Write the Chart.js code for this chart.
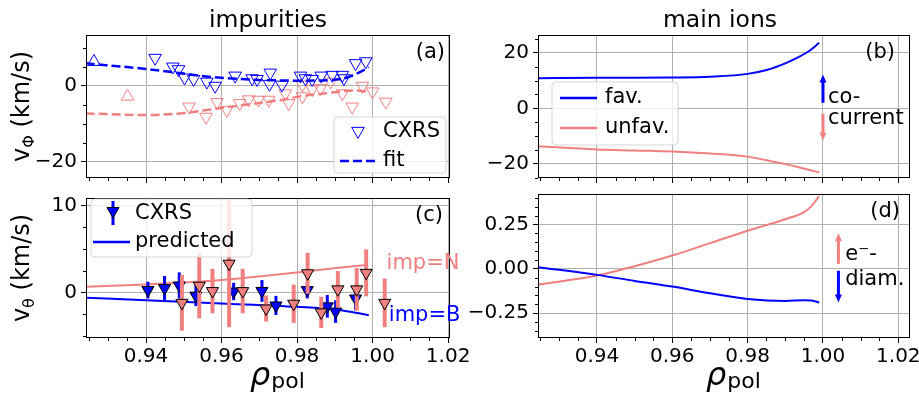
<!DOCTYPE html>
<html>
<head>
<meta charset="utf-8">
<script src="https://cdn.jsdelivr.net/npm/chart.js@4.4.0/dist/chart.umd.min.js"></script>
<style>
html, body { margin: 0; padding: 0; background: #fff; }
#wrap { position: relative; width: 919px; height: 394px; overflow: hidden; }
#wrap canvas { position: absolute; left: 0; top: 0; }
</style>
</head>
<body>
<div id="wrap">
  <canvas id="cD" width="919" height="394"></canvas>
  <canvas id="cC" width="919" height="394"></canvas>
  <canvas id="cB" width="919" height="394"></canvas>
  <canvas id="cA" width="919" height="394"></canvas>
</div>
<script>
//ticks
const xMajor = [0.94, 0.96, 0.98, 1.00, 1.02];
const xMinor = [0.925, 0.930, 0.935, 0.945, 0.950, 0.955, 0.965, 0.970, 0.975, 0.985, 0.990, 0.995, 1.005, 1.010, 1.015];
const aMajor = [-20, 0];
const aMinor = [-15, -10, -5, 5, 10];
const bMajor = [-20, 0, 20];
const bMinor = [-25, -15, -10, -5, 5, 10, 15, 25];
const cMajor = [0, 10];
const cMinor = [-5, -2.5, 2.5, 5, 7.5];
const dMajor = [-0.25, 0, 0.25];
const dMinor = [-0.35, -0.3, -0.2, -0.15, -0.1, -0.05, 0.05, 0.1, 0.15, 0.2, 0.3, 0.35, 0.4];

//(a) impurities, toroidal rotation (km/s)
const aFavRho = [0.9424, 0.9471, 0.9486, 0.9502, 0.9526, 0.9561, 0.9583, 0.9636, 0.9681, 0.9694, 0.9729, 0.9727, 0.9760, 0.9809, 0.9822, 0.9840, 0.9864, 0.9893, 0.9920, 0.9924, 0.9955, 0.9982];
const aFavV   = [7.4, 5.1, 4.4, 2.2, 1.8, 1.1, 0.0, 2.7, 2.0, 1.8, 3.5, 0.5, 0.3, 2.7, 2.0, 1.8, 2.7, 2.9, 2.9, 2.0, 6.0, 6.5];
const aFavUpRho = [0.9262];
const aFavUpV   = [6.4];
const aUnfRho = [0.9514, 0.9559, 0.9588, 0.9614, 0.9648, 0.9672, 0.9698, 0.9725, 0.9769, 0.9778, 0.9814, 0.9814, 0.9840, 0.9862, 0.9889, 0.9920, 0.9946, 0.9973, 1.0000, 1.0035];
const aUnfV   = [-5.5, -8.2, -4.3, -6.4, -4.6, -3.6, -3.7, -3.7, -2.0, -4.6, 0.3, -2.8, -0.9, -0.6, 1.1, -2.0, -5.5, 0.0, -1.5, -4.2];
const aUnfUpRho = [0.9351];
const aUnfUpV   = [-2.8];
const aFitRho = [0.924, 0.94, 0.949, 0.956, 0.961, 0.97, 0.976, 0.98, 0.988, 0.992, 0.995, 0.999];
const aFitFav = [6.0, 4.5, 3.4, 2.5, 2.1, 1.6, 1.45, 1.4, 1.5, 1.9, 2.9, 4.9];
const aFitUnf = [-7.3, -7.7, -7.3, -6.4, -5.7, -4.5, -3.7, -2.9, -1.9, -1.4, -1.2, -1.5];

//(b) main ions, toroidal rotation (km/s)
const bRho   = [0.924, 0.94, 0.95, 0.96, 0.97, 0.98, 0.985, 0.99, 0.9935, 0.9965, 0.999];
const bFav   = [10.8, 11.0, 11.0, 11.1, 11.4, 12.4, 13.8, 16.2, 18.4, 20.8, 23.6];
const bUnfav = [-13.6, -14.8, -15.2, -15.6, -16.3, -17.4, -18.7, -20.1, -21.2, -22.2, -23.1];

//(c) impurities, poloidal rotation (km/s)
const cFavRho = [0.9405, 0.9449, 0.9488, 0.9532, 0.9632, 0.9707, 0.9744, 0.9827, 0.9880, 0.9902, 0.9955];
const cFavV   = [0.27, 0.5, 0.8, -0.37, 0.1, 0.17, -1.5, 0.27, -1.6, -2.2, -0.7];
const cFavErr = [0.96, 1.38, 1.5, 1.2, 1.0, 1.25, 1.1, 0.96, 1.3, 1.3, 1.35];
const cUnfRho = [0.9495, 0.9541, 0.9576, 0.9620, 0.9656, 0.9718, 0.9791, 0.9828, 0.9864, 0.9908, 0.9958, 0.9983, 1.0032];
const cUnfV   = [-1.2, 0.77, 0.15, 3.3, 0.15, -1.85, -1.3, 2.2, -2.3, 0.35, 0.35, 2.25, -1.2];
const cUnfErr = [3.2, 3.75, 2.55, 7.3, 2.55, 1.5, 2.2, 2.35, 1.8, 2.1, 2.45, 2.7, 2.8];
const cPredNRho = [0.924, 0.94, 0.96, 0.98, 0.9897, 0.9986];
const cPredN    = [0.65, 0.92, 1.42, 2.3, 2.77, 3.15];
const cPredBRho = [0.924, 0.94, 0.96, 0.98, 0.9897, 0.9942, 0.999];
const cPredB    = [-0.62, -0.89, -1.27, -1.66, -1.93, -2.23, -2.62];

//(d) main ions, poloidal rotation (km/s)
const dRho   = [0.924, 0.94, 0.95, 0.96, 0.97, 0.98, 0.99, 0.995, 0.997, 0.999];
const dFav   = [0.01, -0.034, -0.068, -0.1, -0.138, -0.17, -0.181, -0.177, -0.179, -0.19];
const dUnfav = [-0.09, -0.038, 0.015, 0.075, 0.145, 0.215, 0.28, 0.32, 0.355, 0.41];

const W = 919, H = 394;
const FONT = "'DejaVu Sans', sans-serif";
const BLUE = '#0000ff';
const CORAL = '#f08080';
const GRID = '#b0b0b0';

function pts(xs, ys) {
    return xs.map((x, i) => ({x: x, y: ys[i]}));
}

function minusFmt(v) {
    return (v < 0 ? '\u2212' : '') + Math.abs(v);
}

function txt(ctx, s, x, y, size, color, align, style) {
    ctx.save();
    ctx.font = (style || '') + ' ' + size + 'px ' + FONT;
    ctx.fillStyle = color || '#000';
    ctx.textAlign = align || 'left';
    ctx.textBaseline = 'middle';
    ctx.fillText(s, x, y);
    ctx.restore();
}

// same geometry as chart.js 'triangle' point style
function tri(ctx, x, y, r, down, fill, stroke) {
    let rad = down ? Math.PI : 0;
    ctx.save();
    ctx.beginPath();
    for (let k = 0; k < 3; k++) {
        const px = x + Math.sin(rad) * r, py = y - Math.cos(rad) * r;
        if (k == 0) ctx.moveTo(px, py); else ctx.lineTo(px, py);
        rad += 2 * Math.PI / 3;
    }
    ctx.closePath();
    if (fill) { ctx.fillStyle = fill; ctx.fill(); }
    ctx.lineWidth = 1;
    ctx.strokeStyle = stroke;
    ctx.stroke();
    ctx.restore();
}

function legendBox(ctx, x, y, w, h) {
    const r = 4;
    ctx.save();
    ctx.beginPath();
    ctx.moveTo(x + r, y);
    ctx.arcTo(x + w, y, x + w, y + h, r);
    ctx.arcTo(x + w, y + h, x, y + h, r);
    ctx.arcTo(x, y + h, x, y, r);
    ctx.arcTo(x, y, x + w, y, r);
    ctx.closePath();
    ctx.fillStyle = 'rgba(255,255,255,0.8)';
    ctx.fill();
    ctx.strokeStyle = 'rgba(204,204,204,0.8)';
    ctx.lineWidth = 1;
    ctx.stroke();
    ctx.restore();
}

function arrow(ctx, x, y0, y1, color) {
    const dir = y1 < y0 ? -1 : 1;
    ctx.save();
    ctx.strokeStyle = color;
    ctx.fillStyle = color;
    ctx.lineWidth = 3;
    ctx.beginPath();
    ctx.moveTo(x, y0);
    ctx.lineTo(x, y1 - dir * 7);
    ctx.stroke();
    ctx.beginPath();
    ctx.moveTo(x - 3.5, y1 - dir * 8);
    ctx.lineTo(x + 3.5, y1 - dir * 8);
    ctx.lineTo(x, y1);
    ctx.closePath();
    ctx.fill();
    ctx.restore();
}

function hline(ctx, x0, x1, y, color, dash) {
    ctx.save();
    ctx.strokeStyle = color;
    ctx.lineWidth = 2.5;
    if (dash) ctx.setLineDash(dash);
    ctx.beginPath();
    ctx.moveTo(x0, y);
    ctx.lineTo(x1, y);
    ctx.stroke();
    ctx.restore();
}

function yLabel(ctx, cx, cy, sub) {
    ctx.save();
    ctx.translate(cx, cy);
    ctx.rotate(-Math.PI / 2);
    ctx.fillStyle = '#000';
    ctx.textBaseline = 'alphabetic';
    ctx.font = '24px ' + FONT;
    const wv = ctx.measureText('v').width;
    const wr = ctx.measureText(' (km/s)').width;
    ctx.font = '16px ' + FONT;
    const ws = ctx.measureText(sub).width;
    let x = -(wv + ws + wr) / 2;
    ctx.font = '24px ' + FONT;
    ctx.fillText('v', x, 0);
    x += wv;
    ctx.font = '16px ' + FONT;
    ctx.fillText(sub, x, 5);
    x += ws;
    ctx.font = '24px ' + FONT;
    ctx.fillText(' (km/s)', x, 0);
    ctx.restore();
}

function xLabel(ctx, a) {
    const x = (a.left + a.right) / 2 - 18;
    ctx.save();
    ctx.fillStyle = '#000';
    ctx.textBaseline = 'alphabetic';
    ctx.font = 'italic 32px ' + FONT;
    ctx.fillText('\u03c1', x, 385);
    const w = ctx.measureText('\u03c1').width;
    ctx.font = '22px ' + FONT;
    ctx.fillText('pol', x + w + 1, 388);
    ctx.restore();
}

function drawErrorBars(chart, ds) {
    const ctx = chart.ctx;
    const xs = chart.scales.x, ys = chart.scales.y;
    const a = chart.chartArea;
    ctx.save();
    ctx.beginPath();
    ctx.rect(a.left, a.top, a.right - a.left, a.bottom - a.top);
    ctx.clip();
    ctx.strokeStyle = ds.errColor;
    ctx.lineWidth = ds.errWidth;
    ds.data.forEach((p, i) => {
        const x = xs.getPixelForValue(p.x);
        ctx.beginPath();
        ctx.moveTo(x, ys.getPixelForValue(p.y - ds.errs[i]));
        ctx.lineTo(x, ys.getPixelForValue(p.y + ds.errs[i]));
        ctx.stroke();
    });
    ctx.restore();
}

function makePanel(id, p) {
    const decor = {
        id: 'decor',
        beforeDatasetDraw(chart, args) {
            const ds = chart.data.datasets[args.index];
            if (ds.errs) drawErrorBars(chart, ds);
        },
        afterDraw(chart) {
            const ctx = chart.ctx, a = chart.chartArea, s = chart.scales;
            ctx.save();
            ctx.strokeStyle = '#000';
            ctx.lineWidth = 1;
            ctx.beginPath();
            xMinor.forEach(v => {
                if (v < p.xr[0] || v > p.xr[1]) return;
                const x = Math.round(s.x.getPixelForValue(v)) + 0.5;
                ctx.moveTo(x, a.bottom);
                ctx.lineTo(x, a.bottom + 3);
            });
            p.yMinor.forEach(v => {
                const y = Math.round(s.y.getPixelForValue(v)) + 0.5;
                ctx.moveTo(a.left - 3, y);
                ctx.lineTo(a.left, y);
            });
            ctx.stroke();
            ctx.strokeRect(a.left + 0.5, a.top + 0.5, a.right - a.left - 1, a.bottom - a.top - 1);
            ctx.restore();
            p.extra(chart, ctx, a, s);
        }
    };

    return new Chart(document.getElementById(id), {
        type: 'scatter',
        data: { datasets: p.datasets },
        options: {
            responsive: false,
            animation: false,
            devicePixelRatio: 1,
            layout: { padding: { left: 0, top: p.box[1], right: W - p.box[2], bottom: H - p.box[3] - p.xh } },
            plugins: { legend: { display: false }, tooltip: { enabled: false }, title: { display: false } },
            scales: {
                x: {
                    type: 'linear', min: p.xr[0], max: p.xr[1],
                    afterBuildTicks: sc => { sc.ticks = xMajor.map(v => ({value: v})); },
                    afterFit: sc => { sc.height = p.xh; sc.paddingLeft = 0; sc.paddingRight = 0; },
                    ticks: { display: p.xLabels, autoSkip: false, maxRotation: 0, padding: 2, color: '#000',
                             font: { family: FONT, size: 20 }, callback: v => v.toFixed(2) },
                    grid: { color: GRID, lineWidth: 1, tickColor: '#000', tickLength: 5, tickWidth: 1 },
                    border: { display: false }
                },
                y: {
                    type: 'linear', min: p.yr[0], max: p.yr[1],
                    afterBuildTicks: sc => { sc.ticks = p.yMajor.map(v => ({value: v})); },
                    afterFit: sc => { sc.width = p.box[0]; sc.paddingTop = 0; sc.paddingBottom = 0; },
                    ticks: { padding: 4, color: '#000', font: { family: FONT, size: 20 }, callback: p.yFmt },
                    grid: { color: GRID, lineWidth: 1, tickColor: '#000', tickLength: 5, tickWidth: 1 },
                    border: { display: false }
                }
            }
        },
        plugins: [decor]
    });
}

function openTri(data, color, down) {
    return { data: data, showLine: false, pointStyle: 'triangle', pointRotation: down ? 180 : 0,
             pointRadius: 7.3, pointBackgroundColor: 'rgba(0,0,0,0)', pointBorderColor: color, pointBorderWidth: 1 };
}

function curve(data, color, dash, width) {
    return { type: 'line', data: data, showLine: true, pointRadius: 0, borderColor: color,
             borderWidth: width || 2, borderDash: dash || [], cubicInterpolationMode: 'monotone' };
}

//panel (a)
makePanel('cA', {
    box: [86, 35, 450, 178], xh: 10, xLabels: false,
    xr: [0.9241, 1.0205], yr: [-24.4, 13.5],
    yMajor: aMajor, yMinor: aMinor, yFmt: minusFmt,
    datasets: [
        curve(pts(aFitRho, aFitFav), BLUE, [9, 4], 2.5),
        curve(pts(aFitRho, aFitUnf), CORAL, [9, 4], 2.5),
        openTri(pts(aFavRho, aFavV), BLUE, true),
        openTri(pts(aFavUpRho, aFavUpV), BLUE, false),
        openTri(pts(aUnfRho, aUnfV), CORAL, true),
        openTri(pts(aUnfUpRho, aUnfUpV), CORAL, false)
    ],
    extra: (chart, ctx, a, s) => {
        txt(ctx, 'impurities', (a.left + a.right) / 2, 21, 23.5, '#000', 'center');
        txt(ctx, '(a)', a.right - 5, a.top + 18, 21, '#000', 'right');
        yLabel(ctx, 29, (a.top + a.bottom) / 2, '\u03a6');
        legendBox(ctx, 334, 117, 112, 56);
        tri(ctx, 358, 131, 7.3, true, null, BLUE);
        txt(ctx, 'CXRS', 383, 132, 21);
        hline(ctx, 340, 375, 161, BLUE, [9, 4]);
        txt(ctx, 'fit', 383, 161, 21);
    }
});

//panel (b)
makePanel('cB', {
    box: [538, 35, 910, 178], xh: 10, xLabels: false,
    xr: [0.92435, 1.0231], yr: [-25.1, 26.4],
    yMajor: bMajor, yMinor: bMinor, yFmt: minusFmt,
    datasets: [
        curve(pts(bRho, bFav), BLUE),
        curve(pts(bRho, bUnfav), CORAL)
    ],
    extra: (chart, ctx, a, s) => {
        txt(ctx, 'main ions', (a.left + a.right) / 2 - 4, 21, 23.5, '#000', 'center');
        txt(ctx, '(b)', a.right - 15, a.top + 18, 21, '#000', 'right');
        legendBox(ctx, 552, 82, 126, 63);
        hline(ctx, 560, 597, 98, BLUE);
        txt(ctx, 'fav.', 605, 98, 21);
        hline(ctx, 560, 597, 128, CORAL);
        txt(ctx, 'unfav.', 605, 128, 21);
        const ax = s.x.getPixelForValue(1.0);
        arrow(ctx, ax, s.y.getPixelForValue(2), s.y.getPixelForValue(12.2), BLUE);
        arrow(ctx, ax, s.y.getPixelForValue(-2), s.y.getPixelForValue(-11.6), CORAL);
        const tx = s.x.getPixelForValue(1.0013);
        txt(ctx, 'co-', tx, s.y.getPixelForValue(3.8), 21);
        txt(ctx, 'current', tx, s.y.getPixelForValue(-3.6), 21);
    }
});

//panel (c)
makePanel('cC', {
    box: [86, 198, 450, 338], xh: 40, xLabels: true,
    xr: [0.9241, 1.0205], yr: [-5.24, 10.85],
    yMajor: cMajor, yMinor: cMinor, yFmt: minusFmt,
    datasets: [
        { data: pts(cUnfRho, cUnfV), errs: cUnfErr, errColor: CORAL, errWidth: 4, showLine: false,
          pointStyle: 'triangle', pointRotation: 180, pointRadius: 7, pointBackgroundColor: CORAL,
          pointBorderColor: '#000', pointBorderWidth: 1 },
        { data: pts(cFavRho, cFavV), errs: cFavErr, errColor: BLUE, errWidth: 3, showLine: false,
          pointStyle: 'triangle', pointRotation: 180, pointRadius: 7, pointBackgroundColor: BLUE,
          pointBorderColor: '#000', pointBorderWidth: 1 },
        curve(pts(cPredBRho, cPredB), BLUE),
        curve(pts(cPredNRho, cPredN), CORAL)
    ],
    extra: (chart, ctx, a, s) => {
        txt(ctx, '(c)', a.right - 7, a.top + 18, 21, '#000', 'right');
        yLabel(ctx, 29, (a.top + a.bottom) / 2, '\u03b8');
        xLabel(ctx, a);
        txt(ctx, 'imp=N', s.x.getPixelForValue(1.0037), s.y.getPixelForValue(3.26), 21, CORAL);
        txt(ctx, 'imp=B', s.x.getPixelForValue(1.0043), s.y.getPixelForValue(-2.62), 21, BLUE);
        legendBox(ctx, 91, 199, 161, 58);
        ctx.save();
        ctx.strokeStyle = BLUE;
        ctx.lineWidth = 3;
        ctx.beginPath();
        ctx.moveTo(113, 201);
        ctx.lineTo(113, 225);
        ctx.stroke();
        ctx.restore();
        tri(ctx, 113, 211, 7, true, BLUE, '#000');
        txt(ctx, 'CXRS', 135, 214, 21);
        hline(ctx, 93, 130, 242, BLUE, null);
        txt(ctx, 'predicted', 135, 242, 21);
    }
});

//panel (d)
makePanel('cD', {
    box: [538, 194, 910, 338], xh: 40, xLabels: true,
    xr: [0.92435, 1.0231], yr: [-0.39, 0.422],
    yMajor: dMajor, yMinor: dMinor, yFmt: v => (v < 0 ? '\u2212' : '') + Math.abs(v).toFixed(2),
    datasets: [
        curve(pts(dRho, dFav), BLUE),
        curve(pts(dRho, dUnfav), CORAL)
    ],
    extra: (chart, ctx, a, s) => {
        txt(ctx, '(d)', a.right - 10, a.top + 18, 21, '#000', 'right');
        xLabel(ctx, a);
        const ax = s.x.getPixelForValue(1.0041);
        arrow(ctx, ax, s.y.getPixelForValue(0.028), s.y.getPixelForValue(0.2), CORAL);
        arrow(ctx, ax, s.y.getPixelForValue(-0.011), s.y.getPixelForValue(-0.19), BLUE);
        const tx = s.x.getPixelForValue(1.0059);
        txt(ctx, 'e\u207b-', tx, s.y.getPixelForValue(0.079), 21);
        txt(ctx, 'diam.', tx, s.y.getPixelForValue(-0.062), 21);
    }
});
</script>
</body>
</html>
